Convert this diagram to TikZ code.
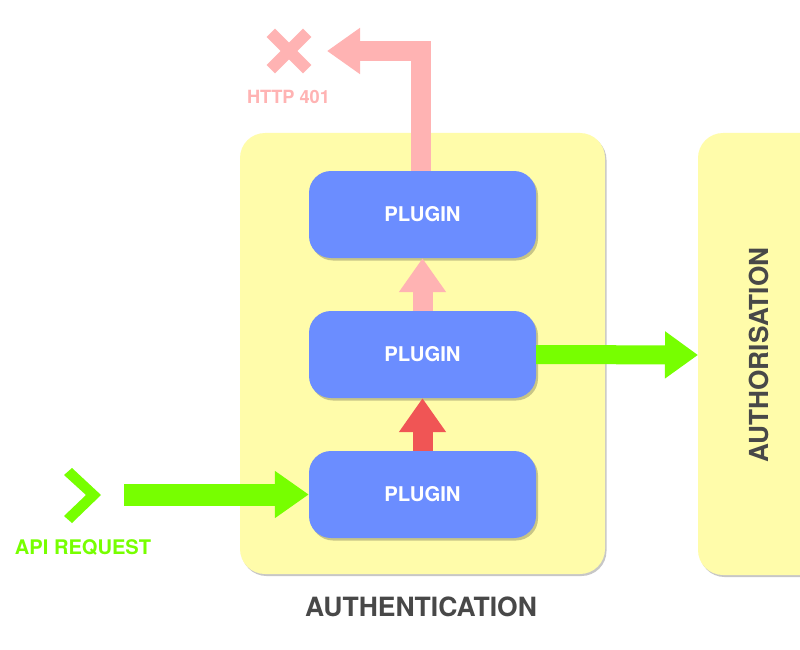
\documentclass[tikz,border=0pt]{standalone}
\usepackage{fontspec}
\setmainfont{TeX Gyre Heros}
\usetikzlibrary{arrows.meta,shadows}
\definecolor{boxyellow}{HTML}{FFFCAA}
\definecolor{plugblue}{HTML}{6B8DFF}
\definecolor{okgreen}{HTML}{77FF00}
\definecolor{failpink}{HTML}{FFB3B3}
\definecolor{passred}{HTML}{F05555}
\definecolor{labelgray}{HTML}{484848}
\tikzset{
  stagebox/.style={fill=boxyellow, rounded corners=25pt,
    drop shadow={shadow xshift=1.5pt, shadow yshift=-2pt, opacity=0.22, fill=black}},
  pluginbox/.style={fill=plugblue, rounded corners=22pt, minimum width=227pt,
    minimum height=87pt, inner sep=0pt, text=white,
    font=\bfseries\fontsize{20.3}{20.3}\selectfont,
    drop shadow={shadow xshift=2pt, shadow yshift=-2.5pt, opacity=0.35, fill=black!70!yellow}},
  blockarrow/.style={line width=#1, line join=miter},
  blockarrow/.default=20pt,
  bigtip/.style={-{Triangle[length=34pt,width=45pt]}},
  stagelabel/.style={text=labelgray, font=\bfseries\fontsize{26.5}{26.5}\selectfont, inner sep=0pt},
}
\begin{document}
\begin{tikzpicture}[x=1pt,y=-1pt]
\clip (0,0) rectangle (800,650);
\fill[white] (0,0) rectangle (800,650);

% stage boxes
\path[stagebox] (240,133) rectangle (605,574);
\path[stagebox] (698,133) rectangle (840,575);
\coordinate (authz) at (698,355);

% plugins
\node[pluginbox] (p1) at (422.5,214.5) {PLUGIN};
\node[pluginbox] (p2) at (422.5,354.5) {PLUGIN};
\node[pluginbox] (p3) at (422.5,494.5) {PLUGIN};

% labels
\node[stagelabel] (authn) at (421,607) {AUTHENTICATION};
\node[stagelabel, font=\bfseries\fontsize{26.2}{26.2}\selectfont, rotate=90] (authzlabel) at (759,355) {AUTHORISATION};
\node[text=okgreen, font=\bfseries\fontsize{20.1}{20.1}\selectfont, inner sep=0pt] (apilabel) at (83,547) {API REQUEST};
\node[text=failpink, font=\bfseries\fontsize{18.2}{18.2}\selectfont, inner sep=0pt] (httplabel) at (288.5,97) {HTTP 401};

% API request chevron
\fill[okgreen] (64,475) -- (72,468) -- (101,495) -- (72,523) -- (64,516) -- (86,495) -- cycle;
\coordinate (reqstart) at (124,494.5);

% X mark
\coordinate (xmark) at (289,51);
\draw[failpink, line width=12pt] ([shift={(-18.2,-18.2)}]xmark) -- ([shift={(18.2,18.2)}]xmark);
\draw[failpink, line width=12pt] ([shift={(-18.2,18.2)}]xmark) -- ([shift={(18.2,-18.2)}]xmark);
\coordinate (failend) at (327,51);

% arrows
\draw[okgreen, blockarrow=22pt, bigtip] (reqstart) -- (p3.west);
\draw[passred, blockarrow, bigtip] (p3.north) -- (p2.south);
\draw[failpink, blockarrow, bigtip] (p2.north) -- (p1.south);
\draw[okgreen, blockarrow=19pt, -{Triangle[length=33pt,width=45pt]}] (p2.east) -- (authz);
\draw[failpink, blockarrow, -{Triangle[length=33pt,width=44pt]}] ([xshift=-1.5pt]p1.north) |- (failend);
\end{tikzpicture}
\end{document}
